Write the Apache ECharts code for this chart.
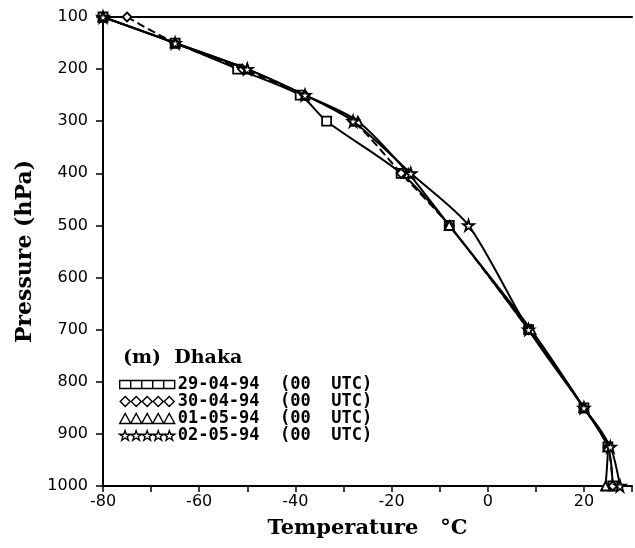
<!DOCTYPE html>
<html>
<head>
<meta charset="utf-8">
<script src="https://cdn.jsdelivr.net/npm/echarts@6/dist/echarts.min.js"></script>
<style>html,body{margin:0;padding:0;background:#fff;}#c{width:635px;height:548px;}</style>
</head>
<body>
<div id="c"></div>
<script>
var pressureLevels = [100, 150, 200, 250, 300, 400, 500, 700, 850, 925, 1000];
var temp290494 = [-80, -65, -52, -39, -33.5, -18, -8, 8.5, 20, 25, 26];
var temp300494 = [-75, -65, -51, -38, -28, -18, -8, 8.5, 20, 25, 26];
var temp010594 = [-80, -65, -50, -38, -27, -16.5, -8, 9, 20, 25, 24.5];
var temp020594 = [-80, -65, -50, -38, -28, -16, -4, 8.5, 20, 25.5, 27.5];
var seriesNames = ['29-04-94 (00 UTC)', '30-04-94 (00 UTC)', '01-05-94 (00 UTC)', '02-05-94 (00 UTC)'];
var yTicks = [100, 200, 300, 400, 500, 600, 700, 800, 900, 1000];
var xTickLabels = [-80, -60, -40, -20, 0, 20];

var starPath = 'path://M50,0 L61,35 L98,35 L68,57 L79,91 L50,70 L21,91 L32,57 L2,35 L39,35 Z';
function repeatPath(fn) {
  var s = '';
  for (var i = 0; i < 5; i++) s += fn(i * 11) + ' ';
  return 'path://' + s.trim();
}
var legendIcons = [
  repeatPath(function (o) { return 'M' + o + ',1 h11 v8 h-11 Z'; }),
  repeatPath(function (o) { return 'M' + (o + 5.5) + ',0 L' + (o + 10.5) + ',5 L' + (o + 5.5) + ',10 L' + (o + 0.5) + ',5 Z'; }),
  repeatPath(function (o) { return 'M' + o + ',10 L' + (o + 5.5) + ',0 L' + (o + 11) + ',10 Z'; }),
  repeatPath(function (o) {
    var p = [[5.5,0],[6.8,3.6],[10.8,3.6],[7.6,5.9],[8.8,9.6],[5.5,7.3],[2.2,9.6],[3.4,5.9],[0.2,3.6],[4.2,3.6]];
    return 'M' + p.map(function (q) { return (q[0] + o) + ',' + q[1]; }).join(' L') + ' Z';
  })
];
var symbols = ['rect', 'diamond', 'triangle', starPath];
var temps = [temp290494, temp300494, temp010594, temp020594];
var dashes = ['solid', 'dashed', 'solid', 'solid'];

function pairs(t) { return t.map(function (v, i) { return [v, pressureLevels[i]]; }); }

var chart = echarts.init(document.getElementById('c'));
var series = temps.map(function (t, i) {
  return {
    name: seriesNames[i],
    type: 'line',
    data: pairs(t),
    smooth: 0.25,
    clip: false,
    symbol: symbols[i],
    symbolSize: i === 3 ? 11 : 9,
    lineStyle: { color: '#000', width: 2, type: dashes[i] },
    itemStyle: { color: '#fff', borderColor: '#000', borderWidth: 1.8 },
    z: 3 + i
  };
});

chart.setOption({
  animation: false,
  backgroundColor: '#fff',
  grid: { left: 103, right: 0, top: 17, bottom: 62 },
  title: {
    text: '(m)  Dhaka',
    left: 118, top: 344,
    textStyle: { fontFamily: 'DejaVu Serif', fontWeight: 'bold', fontSize: 19, color: '#000' }
  },
  legend: {
    orient: 'vertical',
    left: 119, top: 376,
    itemWidth: 55, itemHeight: 10, itemGap: 0,
    padding: 0,
    icon: 'rect',
    data: seriesNames.map(function (n, i) { return { name: n, icon: legendIcons[i] }; }),
    formatter: function (n) { return n.replace(' (', '  (').replace(' UTC', '  UTC'); },
    itemStyle: { color: '#fff', borderColor: '#000', borderWidth: 1.4 },
    textStyle: { fontFamily: 'DejaVu Sans Mono', fontWeight: 'bold', fontSize: 17, lineHeight: 16, color: '#000', padding: [0, 0, 0, -2] },
    selectedMode: false
  },
  xAxis: [{
    type: 'value', min: -80, max: 30, interval: 10,
    name: 'Temperature   °C', nameLocation: 'middle', nameGap: 32,
    nameTextStyle: { fontFamily: 'DejaVu Serif', fontWeight: 'bold', fontSize: 21, color: '#000' },
    axisLine: { show: true, lineStyle: { color: '#000', width: 2 } },
    axisTick: { show: true, length: 6, lineStyle: { color: '#000', width: 1.5 } },
    axisLabel: {
      color: '#000', fontFamily: 'DejaVu Sans', fontSize: 16, margin: 8,
      formatter: function (v) { return xTickLabels.indexOf(v) >= 0 ? String(v) : ''; }
    },
    splitLine: { show: false }
  }, {
    type: 'value', min: -80, max: 30, position: 'top',
    axisLine: { show: true, onZero: false, lineStyle: { color: '#000', width: 2 } },
    axisTick: { show: false }, axisLabel: { show: false }, splitLine: { show: false }
  }],
  yAxis: {
    type: 'value', inverse: true, min: 100, max: 1000, interval: 100,
    name: 'Pressure (hPa)', nameLocation: 'middle', nameGap: 62,
    nameTextStyle: { fontFamily: 'DejaVu Serif', fontWeight: 'bold', fontSize: 22, color: '#000' },
    axisLine: { show: true, onZero: false, lineStyle: { color: '#000', width: 2 } },
    axisTick: { show: true, length: 7, lineStyle: { color: '#000', width: 1.5 } },
    axisLabel: {
      color: '#000', fontFamily: 'DejaVu Sans', fontSize: 16, margin: 15,
      formatter: function (v) { return yTicks.indexOf(v) >= 0 ? String(v) : ''; }
    },
    splitLine: { show: false }
  },
  series: series
});
</script>
</body>
</html>
